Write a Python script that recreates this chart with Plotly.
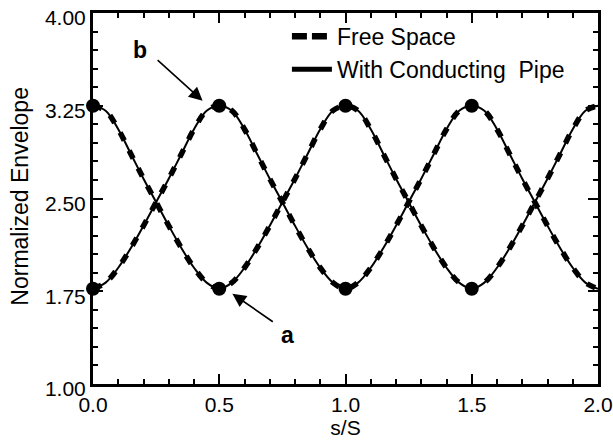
import plotly.graph_objects as go

# s/S sample positions (step 0.05)
s = [round(i * 0.05, 2) for i in range(41)]

# Curve "a" (max at s=0,1,2)
env_a = [3.25, 3.21, 3.06, 2.86, 2.66, 2.47, 2.28, 2.10, 1.94, 1.82, 1.77,
         1.82, 1.94, 2.10, 2.28, 2.47, 2.66, 2.86, 3.06, 3.21, 3.25,
         3.21, 3.06, 2.86, 2.66, 2.47, 2.28, 2.10, 1.94, 1.82, 1.77,
         1.82, 1.94, 2.10, 2.28, 2.47, 2.66, 2.86, 3.06, 3.21, 3.25]
# Curve "b" (max at s=0.5,1.5)
env_b = [1.77, 1.82, 1.94, 2.10, 2.28, 2.47, 2.66, 2.86, 3.06, 3.21, 3.25,
         3.21, 3.06, 2.86, 2.66, 2.47, 2.28, 2.10, 1.94, 1.82, 1.77,
         1.82, 1.94, 2.10, 2.28, 2.47, 2.66, 2.86, 3.06, 3.21, 3.25,
         3.21, 3.06, 2.86, 2.66, 2.47, 2.28, 2.10, 1.94, 1.82, 1.77]

# Extremum dots
ext_s = [0.0, 0.0, 0.5, 0.5, 1.0, 1.0, 1.5, 1.5]
ext_v = [3.25, 1.77, 3.25, 1.77, 3.25, 1.77, 3.25, 1.77]

x_ticks = [0.0, 0.5, 1.0, 1.5, 2.0]
y_ticks = [1.00, 1.75, 2.50, 3.25, 4.00]

series_names = ["Free Space", "With Conducting  Pipe"]

FONT = "Liberation Sans, Arial, Helvetica, sans-serif"

fig = go.Figure()

dash_style = dict(color="black", width=5.5, dash="9px,11px")
solid_style = dict(color="black", width=2)

fig.add_trace(go.Scatter(x=s, y=env_a, mode="lines", line=dash_style,
                         line_shape="spline", showlegend=False))
fig.add_trace(go.Scatter(x=s, y=env_b, mode="lines", line=dash_style,
                         line_shape="spline", showlegend=False))
fig.add_trace(go.Scatter(x=s, y=env_a, mode="lines", line=solid_style,
                         line_shape="spline", showlegend=False))
fig.add_trace(go.Scatter(x=s, y=env_b, mode="lines", line=solid_style,
                         line_shape="spline", showlegend=False))
fig.add_trace(go.Scatter(x=ext_s, y=ext_v, mode="markers",
                         marker=dict(color="black", size=14),
                         showlegend=False, cliponaxis=False))

# legend-only entries (thicker sample lines, as in the reference legend)
fig.add_trace(go.Scatter(x=[None], y=[None], mode="lines", name=series_names[0],
                         line=dict(color="black", width=6.5, dash="15px,5px")))
fig.add_trace(go.Scatter(x=[None], y=[None], mode="lines", name=series_names[1],
                         line=dict(color="black", width=5)))

axis_common = dict(
    showline=True, linecolor="black", linewidth=3, mirror="allticks",
    ticks="inside", ticklen=10, tickwidth=2, tickcolor="black",
    showgrid=False, zeroline=False, automargin=False,
    tickfont=dict(family=FONT, size=21, color="black"),
)

fig.update_xaxes(range=[0, 2], tickvals=x_ticks,
                 ticktext=[f"{v:.1f}" for v in x_ticks],
                 minor=dict(ticks="inside", ticklen=5, tickwidth=1.5,
                            tickcolor="black", dtick=0.1, tick0=0),
                 title=dict(text="s/S", font=dict(family=FONT, size=21, color="black"),
                            standoff=4),
                 **axis_common)
fig.update_yaxes(range=[1, 4], tickvals=y_ticks,
                 ticktext=[f"{v:.2f}" for v in y_ticks],
                 minor=dict(ticks="inside", ticklen=5, tickwidth=1.5,
                            tickcolor="black", dtick=0.15, tick0=1),
                 ticklabelshift=5,
                 **axis_common)

# y axis title as annotation for exact placement
fig.add_annotation(xref="paper", yref="paper", x=-0.145, y=0.507,
                   xanchor="center", yanchor="middle",
                   text="Normalized Envelope", textangle=-90, showarrow=False,
                   font=dict(family=FONT, size=23, color="black"))

ann_font = dict(family=FONT, size=23, color="black")
fig.add_annotation(x=0.185, y=3.70, text="<b>b</b>", showarrow=False, font=ann_font)
fig.add_annotation(x=0.434, y=3.29, ax=0.25, ay=3.63, axref="x", ayref="y",
                   text="", showarrow=True, arrowhead=2, arrowsize=1.7,
                   arrowwidth=1.6, arrowcolor="black")
fig.add_annotation(x=0.77, y=1.40, text="<b>a</b>", showarrow=False, font=ann_font)
fig.add_annotation(x=0.552, y=1.73, ax=0.718, ay=1.495, axref="x", ayref="y",
                   text="", showarrow=True, arrowhead=2, arrowsize=1.7,
                   arrowwidth=1.6, arrowcolor="black")

fig.update_layout(
    width=613, height=447,
    margin=dict(l=93, r=15, t=13, b=63),
    paper_bgcolor="white", plot_bgcolor="white",
    font=dict(family=FONT, color="black"),
    legend=dict(x=0.384, y=0.995, xanchor="left", yanchor="top",
                bgcolor="rgba(0,0,0,0)", borderwidth=0,
                font=dict(family=FONT, size=23, color="black"),
                itemwidth=40, tracegroupgap=0),
)

fig.write_html("out.html")
